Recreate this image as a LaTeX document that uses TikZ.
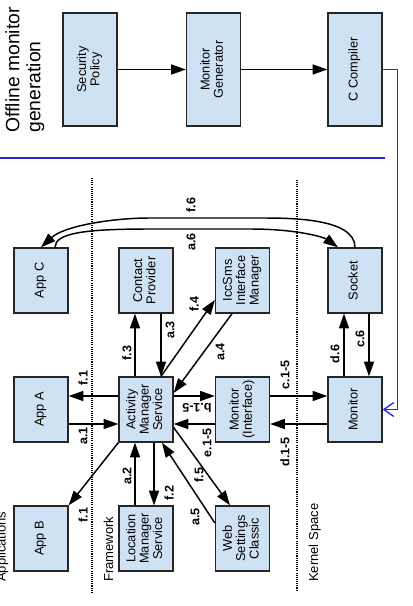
\documentclass[tikz,border=0pt]{standalone}
\usepackage{fontspec}
\setmainfont{Liberation Sans}
\usepackage{graphicx}
\usetikzlibrary{arrows.meta,calc}
\definecolor{boxblue}{RGB}{207,226,243}
\definecolor{lineblue}{RGB}{40,40,210}
\newcommand\rtxt[1]{\rotatebox{90}{\begin{tabular}{@{}c@{}}#1\end{tabular}}}
\begin{document}
\begin{tikzpicture}[x=0.75pt,y=-0.75pt,
  box/.style={draw=black!85, line width=1pt, fill=boxblue, minimum width=40.5pt,
    minimum height=48.75pt, inner sep=0pt, font=\fontsize{9.6}{10}\selectfont},
  obox/.style={box, minimum height=84.75pt},
  arr/.style={draw=black, line width=1.1pt, -{Triangle[length=11pt,width=7.5pt]}},
  lbl/.style={font=\fontsize{9.4}{10}\selectfont\bfseries, rotate=90, inner sep=0pt},
  zone/.style={font=\fontsize{9.75}{11}\selectfont, rotate=90, inner sep=0pt, anchor=base west},
  sep/.style={line width=0.8pt, dash pattern=on 0.8pt off 0.8pt},
  blueline/.style={draw=lineblue, line width=1pt}
]
\useasboundingbox (0,0) rectangle (412,606);

% offline part
\node[rotate=90, anchor=north west, align=left, inner sep=0pt,
  font=\fontsize{14.5}{15.75}\selectfont] (offl) at (5,133) {Offline monitor\\generation};
\node[obox] (secpol) at (90,69.5) {\rtxt{Security\\Policy}};
\node[obox] (mongen) at (213.5,69.5) {\rtxt{Monitor\\Generator}};
\node[obox] (ccomp) at (355,69.5) {\rtxt{C Compiler}};
\draw[arr] (secpol) -- (mongen);
\draw[arr] (mongen) -- (ccomp);
\draw[blueline] (0,158) -- (385,158);

% zone separators and labels
\draw[sep] (92,178) -- (92,592);
\draw[sep] (297,180) -- (297,590);
\node[zone] (zapp) at (5.5,582) {Applications};
\node[zone] (zfw) at (113,582) {Framework};
\node[zone] (zks) at (318,582) {Kernel Space};

% boxes
\node[box] (appc) at (41,280.5) {\rtxt{App C}};
\node[box] (contact) at (146,280.5) {\rtxt{Contact\\Provider}};
\node[box] (iccsms) at (242.5,280.5) {\rtxt{IccSms\\Interface\\Manager}};
\node[box] (socket) at (355,280.5) {\rtxt{Socket}};
\node[box] (appa) at (41,409.5) {\rtxt{App A}};
\node[box] (ams) at (146,409.5) {\rtxt{Activity\\Manager\\Service}};
\node[box] (monif) at (242.5,409.5) {\rtxt{Monitor\\(Interface)}};
\node[box] (monitor) at (355,409.5) {\rtxt{Monitor}};
\node[box] (appb) at (41,538.5) {\rtxt{App B}};
\node[box] (loc) at (146,538.5) {\rtxt{Location\\Manager\\Service}};
\node[box] (web) at (242.5,538.5) {\rtxt{Web\\Settings\\Classic}};

% blue link compiler -> monitor
\draw[blueline, -{Straight Barb[length=7.5pt,width=10.5pt]}] (ccomp.east) -- ++(15,0) |- (monitor.east);

% connectors
\draw[arr] ($(ams.west)+(0,-13.5)$) -- ($(appa.east)+(0,-13.5)$);
\draw[arr] ($(appa.east)+(0,14.5)$) -- ($(ams.west)+(0,14.5)$);
\draw[arr] (ams.south west) -- (appb.north east);
\draw[arr] ($(loc.north)+(-11,0)$) -- ($(ams.south)+(-11,0)$);
\draw[arr] ($(ams.south)+(8,0)$) -- ($(loc.north)+(8,0)$);
\draw[arr] ($(ams.north)+(-11,0)$) -- ($(contact.south)+(-11,0)$);
\draw[arr] ($(contact.south)+(15,0)$) -- ($(ams.north)+(15,0)$);
\draw[arr] ($(ams.north)+(15,0)$) -- ($(iccsms.west)+(0,19.5)$);
\draw[arr] ($(iccsms.south)+(-10.5,0)$) -- ($(ams.east)+(0,-16.5)$);
\draw[arr] ($(ams.east)+(0,-13.5)$) -- ($(monif.west)+(0,-13.5)$);
\draw[arr] ($(monif.west)+(0,14.5)$) -- ($(ams.east)+(0,14.5)$);
\draw[arr] ($(ams.east)+(0,18)$) -- ($(web.north)+(-12.5,0)$);
\draw[arr] ($(web.west)+(0,-15.5)$) -- ($(ams.south)+(16,0)$);
\draw[arr] ($(monif.east)+(0,-13.5)$) -- ($(monitor.west)+(0,-13.5)$);
\draw[arr] ($(monitor.west)+(0,14.5)$) -- ($(monif.east)+(0,14.5)$);
\draw[arr] ($(monitor.north)+(-11,0)$) -- ($(socket.south)+(-11,0)$);
\draw[arr] ($(socket.south)+(14,0)$) -- ($(monitor.north)+(14,0)$);
\draw[arr] (socket.north) .. controls (355,218) and (290,218) .. (260,218)
  -- (150,218) .. controls (112,218) and (64,226) .. (appc.north);
\draw[arr] ($(appc.north)+(14,0)$) .. controls (55,233) and (85,229) .. (150,229)
  -- (250,229) .. controls (300,229) and (325,238) .. ($(socket.north)+(-17,0)$);

% connector labels
\node[lbl] (l1) at (83,378) {f.1};
\node[lbl] (l2) at (83,436) {a.1};
\node[lbl] (l3) at (83,515) {f.1};
\node[lbl] (l4) at (127,476) {a.2};
\node[lbl] (l5) at (169,493) {f.2};
\node[lbl] (l6) at (127,353) {f.3};
\node[lbl] (l7) at (170,330) {a.3};
\node[lbl] (l8) at (194,304) {f.4};
\node[lbl] (l9) at (220,352) {a.4};
\node[lbl, rotate=90] (l10) at (197,408) {b.1-5};
\node[lbl] (l11) at (207,443) {e.1-5};
\node[lbl] (l12) at (199,475) {f.5};
\node[lbl] (l13) at (195,517) {a.5};
\node[lbl] (l14) at (285,375) {c.1-5};
\node[lbl] (l15) at (285,452) {d.1-5};
\node[lbl] (l16) at (335,354) {d.6};
\node[lbl] (l17) at (360,339) {c.6};
\node[lbl] (l18) at (191,205) {f.6};
\node[lbl] (l19) at (191,242) {a.6};
\end{tikzpicture}
\end{document}
